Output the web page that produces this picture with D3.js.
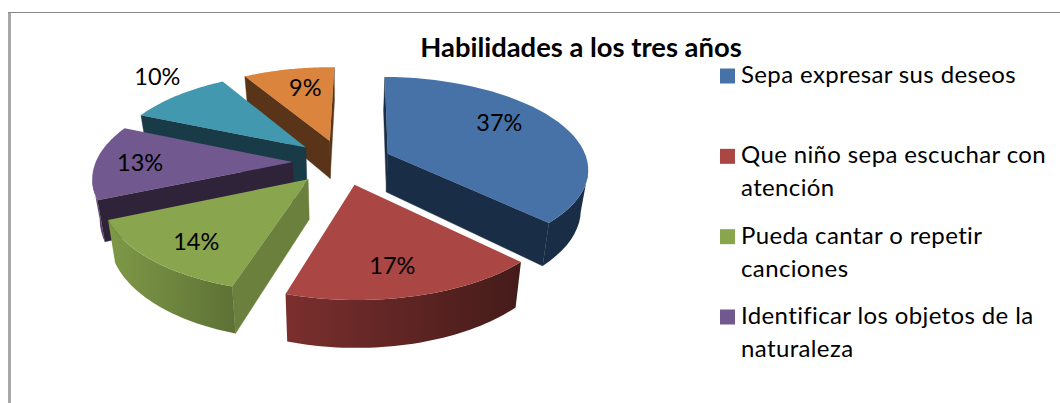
<!DOCTYPE html>
<html><head><meta charset="utf-8">
<script src="https://cdn.jsdelivr.net/npm/d3@7"></script>
<style>html,body{margin:0;padding:0;background:#fff;overflow:hidden}svg{display:block}text{font-family:Lato,sans-serif;fill:#000}</style>
</head><body><svg id="c" width="1060" height="403"></svg>
<script>
const chartTitle = "Habilidades a los tres años";
const values = [37.2, 17.3, 13.7, 13.0, 10.0, 8.8];
const valueLabels = ["37%", "17%", "14%", "13%", "10%", "9%"];
const legendLines = [
  ["Sepa expresar sus deseos"],
  ["Que niño sepa escuchar con", "atención"],
  ["Pueda cantar o repetir", "canciones"],
  ["Identificar los objetos de la", "naturaleza"]
];
const topColors = ["#4672a8", "#aa4643", "#89a54e", "#71588f", "#4198af", "#db843d"];
const wallColors = ["#1a2d46", "#451c1a", "#6a803c", "#2f2339", "#193b48", "#5a3418"];
const outerLeft = ["#1a2d46", "#7a2f2e", "#7f9947", "#5a4472", "#193b48", "#5a3418"];
const outerRight = ["#1a2d46", "#441b19", "#5d7135", "#5a4472", "#193b48", "#5a3418"];
const labelRadii = [0.72, 0.745, 0.76, 0.775, 1.3, 0.715];
const labelAngles = [58, 168, 220, 270, 316, 348];
const drawOrder = [5, 4, 3, 2, 0, 1];

const rot = 1 * Math.PI / 180, explode = 0.25, k = 0.149, depth = 39, taper = 0.97;
const cx = 342, cy = 162;
const sx = d3.scaleLinear().domain([-1, 0, 1]).range([cx - 197, cx, cx + 200]);
const sy = d3.scaleLinear().domain([-1, 1]).range([cy + 90.5, cy - 90.5]);
const svg = d3.select("#c");
const defs = svg.append("defs");

const arcs = d3.pie().sort(null).startAngle(rot).endAngle(rot + 2 * Math.PI)(values);
const line = d3.line();
const top3 = (u, v) => { const w = 1 / (1 + k * v); return [sx(u * w), sy(v * w)]; };
const bot3 = (u, v) => { const w = 1 / (1 + k * v); return [cx + (sx(u * w) - cx) * taper, sy(v * w) + depth * w]; };
const samples = d => d3.range(0, 41).map(i => d.startAngle + (d.endAngle - d.startAngle) * i / 40);

// frame
svg.append("path").attr("d", line([[9.5, 403], [9.5, 13]])).attr("fill", "none").attr("stroke", "#a8a8a8").attr("stroke-width", 3);
svg.append("path").attr("d", line([[8, 12.5], [1060, 12.5]])).attr("fill", "none").attr("stroke", "#888888").attr("stroke-width", 1);

drawOrder.forEach(i => {
  const d = arcs[i], mid = (d.startAngle + d.endAngle) / 2;
  const ox = explode * Math.sin(mid), oy = explode * Math.cos(mid);
  const g = svg.append("g");
  const disc = t => [ox + Math.sin(t), oy + Math.cos(t)];
  const apex = [ox, oy];
  const ts = samples(d);
  const rim = ts.map(disc);
  const rimTop = rim.map(p => top3(p[0], p[1]));
  const rimBot = rim.map(p => bot3(p[0], p[1]));
  const aT = top3(apex[0], apex[1]), aB = bot3(apex[0], apex[1]);

  const id = "o" + i;
  const grad = defs.append("linearGradient").attr("id", id).attr("x1", 0).attr("x2", 1).attr("y1", 0).attr("y2", 0);
  grad.append("stop").attr("offset", 0).attr("stop-color", outerLeft[i]);
  grad.append("stop").attr("offset", 1).attr("stop-color", outerRight[i]);

  const wall = (a, b, c, e) => g.append("path").attr("d", line([a, b, c, e]) + "Z").attr("fill", wallColors[i]).attr("stroke", wallColors[i]).attr("stroke-width", 0.4);
  if (rimTop[0][0] < aT[0]) wall(aT, rimTop[0], rimBot[0], aB);
  const last = rimTop.length - 1;
  if (aT[0] < rimTop[last][0]) wall(rimTop[last], aT, aB, rimBot[last]);
  const vis = d3.range(0, last).filter(j => rimTop[j + 1][0] < rimTop[j][0]);
  if (vis.length) {
    const a = vis[0], b = vis[vis.length - 1] + 1;
    const tp = rimTop.slice(a, b + 1), bt = rimBot.slice(a, b + 1).reverse();
    g.append("path").attr("d", line(tp.concat(bt)) + "Z").attr("fill", "url(#" + id + ")");
  }
  g.append("path").attr("d", line([aT].concat(rimTop)) + "Z").attr("fill", topColors[i]);
});

// data labels
arcs.forEach((d, i) => {
  const mid = (d.startAngle + d.endAngle) / 2, a = labelAngles[i] * Math.PI / 180, r = labelRadii[i];
  const p = top3(explode * Math.sin(mid) + r * Math.sin(a), explode * Math.cos(mid) + r * Math.cos(a));
  svg.append("text").attr("x", p[0]).attr("y", p[1]).attr("text-anchor", "middle").attr("dominant-baseline", "central")
    .attr("font-size", 23.5).text(valueLabels[i]);
});

svg.append("text").attr("x", 581).attr("y", 57).attr("text-anchor", "middle").attr("font-size", 27.4).attr("font-weight", 700).text(chartTitle);

const ly = d3.scalePoint().domain(d3.range(legendLines.length)).range([76, 317]);
legendLines.forEach((lines, i) => {
  svg.append("rect").attr("x", 720).attr("y", ly(i) - 7.5).attr("width", 15).attr("height", 15).attr("fill", topColors[i]);
  lines.forEach((t, j) => svg.append("text").attr("x", 741).attr("y", ly(i) + 7 + j * 33).attr("font-size", 24).attr("letter-spacing", 0.37).text(t));
});
</script></body></html>
